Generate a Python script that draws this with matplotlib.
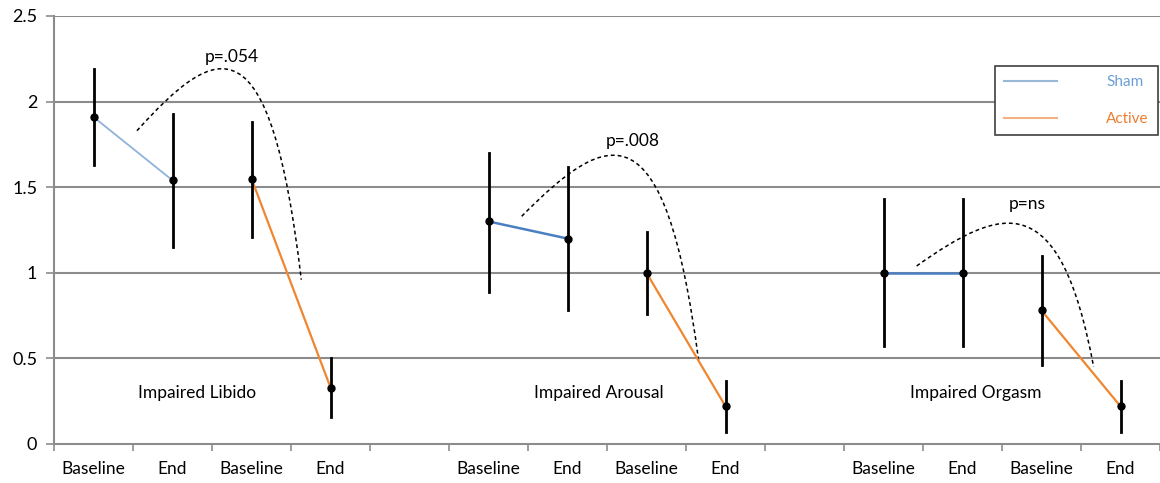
import numpy as np
import matplotlib
matplotlib.use("Agg")
import matplotlib.pyplot as plt
from matplotlib.path import Path
from matplotlib.patches import PathPatch

plt.rcParams["font.family"]=["Lato","DejaVu Sans"]

ticks=["Baseline","End","Baseline","End","","Baseline","End","Baseline","End","","Baseline","End","Baseline","End"]
groups=["Impaired Libido","Impaired Arousal","Impaired Orgasm"]
pvals=["p=.054","p=.008","p=ns"]

# per group: baseline, end
sham_mean=[[1.91,1.54],[1.30,1.20],[1.00,1.00]]
sham_lo=[[1.63,1.15],[0.89,0.78],[0.57,0.57]]
sham_hi=[[2.19,1.93],[1.70,1.62],[1.43,1.43]]
act_mean=[[1.55,0.33],[1.00,0.22],[0.78,0.22]]
act_lo=[[1.21,0.16],[0.76,0.07],[0.46,0.07]]
act_hi=[[1.88,0.50],[1.24,0.37],[1.10,0.37]]

# dashed curve: start, peak height, end (x in category units)
arc_start=[(0.55,1.83),(5.42,1.33),(10.42,1.04)]
arc_peak=[2.185,1.68,1.285]
arc_end=[(2.63,0.96),(7.66,0.485),(12.66,0.45)]
ptxt=[(1.75,2.26),(6.82,1.77),(11.82,1.40)]
gtxt=[(1.31,0.30),(6.40,0.30),(11.17,0.30)]

sham_c=["#8fb3d9","#4a7fc1","#4a7fc1"]
act_c="#f0862f"
grid="#8c8c8c"


def arc(ax,s,pk,e):
	x0,y0=s
	x3,y3=e
	sp=x3-x0
	p1=(x0+0.49*sp,y0+1.465*(pk-y0))
	p2=(x0+0.81*sp,y3+1.257*(pk-y3))
	p=Path([(x0,y0),p1,p2,(x3,y3)],[Path.MOVETO,Path.CURVE4,Path.CURVE4,Path.CURVE4])
	ax.add_patch(PathPatch(p,fill=False,ls=(0,(2.5,2)),lw=1.1,color="black",zorder=1))


fig=plt.figure(figsize=(11.6,4.83),dpi=100)
ax=fig.add_axes([54/1160,39/483,1106/1160,428/483])
ax.set_xlim(-0.5,13.5)
ax.set_ylim(0,2.5)
ax.set_yticks([0,0.5,1,1.5,2,2.5])
ax.set_yticklabels(["0","0.5","1","1.5","2","2.5"],fontsize=13)
for y in [0.5,1,1.5,2,2.5]:
	ax.axhline(y,color=grid,lw=1.5,zorder=0)
for s in ["top","right"]:
	ax.spines[s].set_visible(False)
ax.spines["left"].set_color(grid)
ax.spines["bottom"].set_color(grid)
ax.spines["left"].set_linewidth(1.5)
ax.spines["bottom"].set_linewidth(1.5)
ax.tick_params(axis="y",length=6,color=grid,width=1.2,pad=6)
ax.set_xticks(np.arange(-0.5,13.6,1))
ax.set_xticklabels([])
ax.tick_params(axis="x",length=5,color=grid,width=1.2,direction="out")
ax.set_xticks(np.arange(14),minor=True)
ax.set_xticklabels(ticks,minor=True,fontsize=12.5)
ax.tick_params(axis="x",which="minor",length=0,pad=12)

for g in range(3):
	xb=g*5
	xs=[xb,xb+1]
	xa=[xb+2,xb+3]
	ax.plot(xs,sham_mean[g],color=sham_c[g],lw=1.3 if g==0 else 1.8,zorder=2)
	ax.plot(xa,act_mean[g],color=act_c,lw=1.6,zorder=2)
	for x,m,lo,hi in zip(xs+xa,sham_mean[g]+act_mean[g],sham_lo[g]+act_lo[g],sham_hi[g]+act_hi[g]):
		ax.plot([x,x],[lo,hi],color="black",lw=2,zorder=3)
		ax.plot(x,m,"o",color="black",ms=5,zorder=4)
	arc(ax,arc_start[g],arc_peak[g],arc_end[g])
	ax.text(ptxt[g][0],ptxt[g][1],pvals[g],ha="center",va="center",fontsize=12.5)
	ax.text(gtxt[g][0],gtxt[g][1],groups[g],ha="center",va="center",fontsize=12.5)

h1,=ax.plot([],[],color="#9bb7d6",lw=1.5)
h2,=ax.plot([],[],color="#f4b183",lw=1.5)
leg=ax.legend([h1,h2],["Sham","Active"],loc="upper right",bbox_to_anchor=(0.998,0.883),
	borderaxespad=0,fontsize=11,handlelength=3.5,handletextpad=3.2,labelspacing=1.5,borderpad=0.6,
	fancybox=False,framealpha=1,edgecolor="#404040")
leg.get_frame().set_linewidth(1.2)
leg.get_texts()[0].set_color("#6a9fd6")
leg.get_texts()[1].set_color("#ed7d31")

fig.savefig("out.png",dpi=100)
